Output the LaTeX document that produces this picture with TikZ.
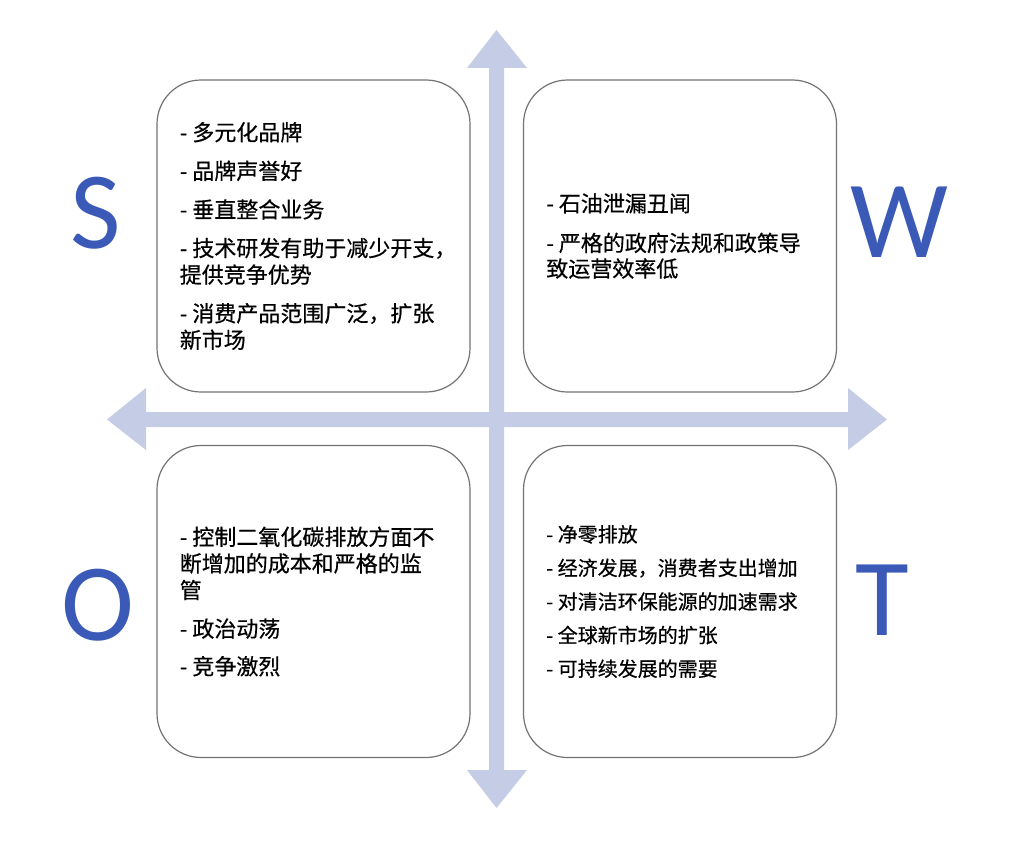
\documentclass[tikz,border=0pt]{standalone}
\usepackage{fontspec}
\newfontfamily\cjk[FakeBold=0.5]{Noto Sans CJK SC}
\newfontfamily\capfont{Carlito}
\definecolor{swotblue}{RGB}{59,90,184}
\definecolor{axisfill}{RGB}{197,204,229}
\begin{document}
\begin{tikzpicture}[x=0.5pt,y=-0.5pt]
  \tikzstyle{quad}=[draw=black!55, line width=0.6pt, rounded corners=22pt, fill=white, minimum width=156.5pt, minimum height=156pt, inner sep=0pt]
  \tikzstyle{items}=[anchor=west, align=left, inner sep=0pt, font=\cjk\fontsize{11}{13.3}\selectfont]
  \tikzstyle{smallitems}=[items, font=\cjk\fontsize{10}{13}\selectfont]
  \tikzstyle{letter}=[text=swotblue, font=\capfont\fontsize{55}{55}\selectfont, inner sep=0pt]
  \tikzstyle{axis}=[fill=axisfill]
  \useasboundingbox (0,0) rectangle (1020,840);
  % the two axes
  \fill[axis] (489,68) -- (467,68) -- (496.5,30) -- (527,68) -- (504,68) -- (504,770) -- (527,770) -- (496.5,808) -- (467,770) -- (489,770) -- cycle;
  \fill[axis] (146,412) -- (146,388) -- (107,419.5) -- (146,450) -- (146,427) -- (848,427) -- (848,450) -- (887,419.5) -- (848,388) -- (848,412) -- cycle;
  % quadrants
  \node[quad] (QS) at (313.5,236) {};
  \node[quad] (QW) at (680,236) {};
  \node[quad] (QO) at (313.5,601.5) {};
  \node[quad] (QT) at (680,601.5) {};
  \node[items] (TS) at ([xshift=11.5pt]QS.west) {- 多元化品牌\\[6pt]- 品牌声誉好\\[6pt]- 垂直整合业务\\[6pt]- 技术研发有助于减少开支，\\提供竞争优势\\[6pt]- 消费产品范围广泛，扩张\\新市场};
  \node[items] (TW) at ([xshift=11.5pt]QW.west) {- 石油泄漏丑闻\\[6.5pt]- 严格的政府法规和政策导\\[-0.5pt]致运营效率低};
  \node[items] (TO) at ([xshift=11.5pt]QO.west) {- 控制二氧化碳排放方面不\\断增加的成本和严格的监\\管\\[6pt]- 政治动荡\\[5.5pt]- 竞争激烈};
  \node[smallitems] (TT) at ([xshift=11.5pt]QT.west) {- 净零排放\\[3.8pt]- 经济发展，消费者支出增加\\[3.8pt]- 对清洁环保能源的加速需求\\[3.8pt]- 全球新市场的扩张\\[3.8pt]- 可持续发展的需要};
  % letters
  \node[letter] (LS) at (95.5,213.5) {S};
  \node[letter] (LW) at (899,222) {W};
  \node[letter] (LO) at (97.5,605) {O};
  \node[letter] (LT) at (882,600.5) {T};
\end{tikzpicture}
\end{document}
